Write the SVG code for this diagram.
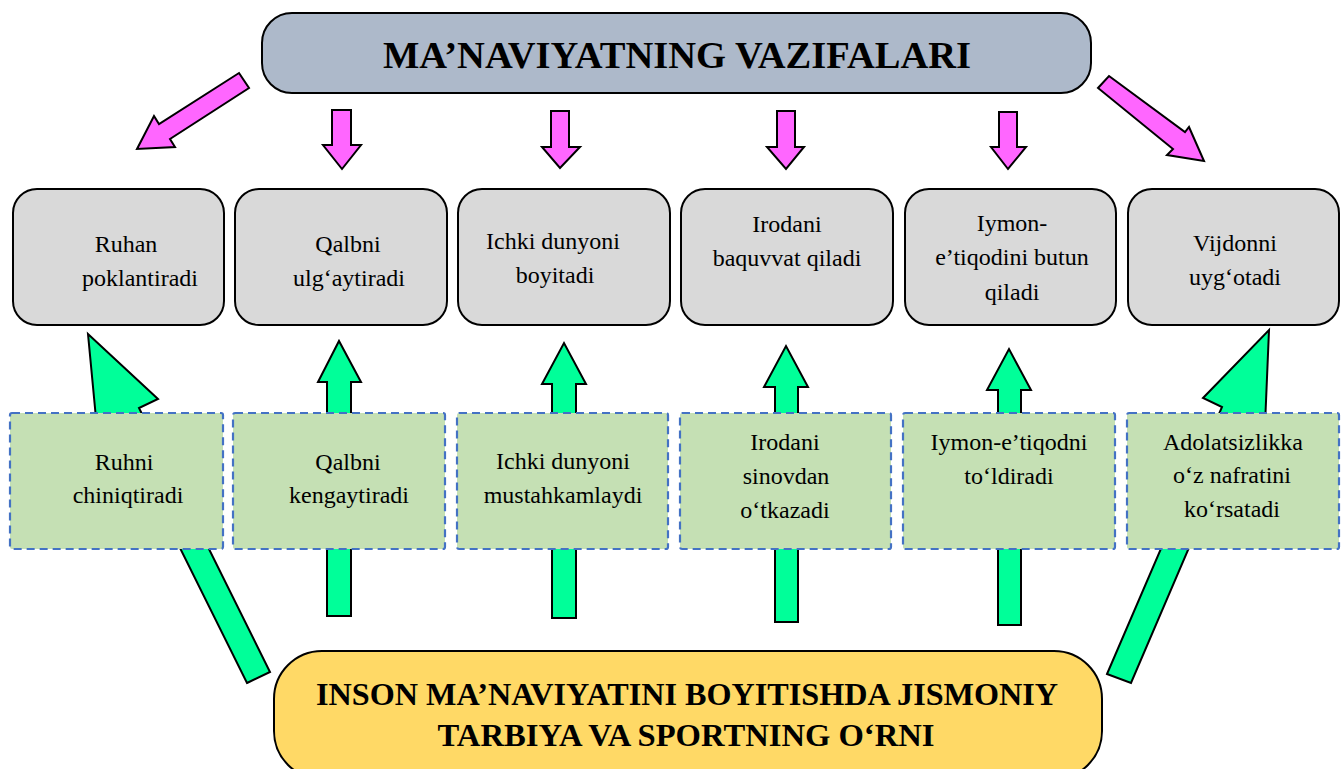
<svg xmlns="http://www.w3.org/2000/svg" width="1341" height="769" viewBox="0 0 1341 769">
<style>
.pink{fill:#ff66ff;stroke:#000;stroke-width:2;stroke-linejoin:miter}
.grn{fill:#00ff99;stroke:#000;stroke-width:2;stroke-linejoin:miter}
.gray{fill:#d9d9d9;stroke:#000;stroke-width:2}
.gbox{fill:#c5e0b4;stroke:#4472c4;stroke-width:2.2;stroke-dasharray:8 5}
.t{font-family:"Liberation Serif","Times New Roman",serif;font-size:24px;fill:#000;text-anchor:middle}
.h{font-family:"Liberation Serif","Times New Roman",serif;font-weight:bold;fill:#000;text-anchor:middle}
</style>
<rect width="1341" height="769" fill="#fff"/>
<g id="connectors">
<polygon class="pink" points="239,73 249,88 170,139 175,147 137,149 154,116 159,124"/>
<polygon class="pink" points="1109,76 1185,132 1189,127 1204,161 1167,155 1173,149 1098,88"/>
<polygon class="pink" points="332,110 351,110 351,145 361,145 342,169 323,145 332,145"/>
<polygon class="pink" points="551,111 569,111 569,147 580,147 560,168 542,147 551,147"/>
<polygon class="pink" points="777,111 795,111 795,147 804,147 786,169 767,147 777,147"/>
<polygon class="pink" points="999,112 1017,112 1017,147 1026,147 1008,169 991,147 999,147"/>
<polygon class="grn" points="247,683 270,672 139,408 158,399 88,334 97,429 116,419"/>
<polygon class="grn" points="1107,674 1131,683 1245,417 1265,425 1269,330 1203,398 1222,407"/>
<polygon class="grn" points="327,616 351,616 351,382 361,382 339,341 318,382 327,382"/>
<polygon class="grn" points="552,618 576,618 576,384 586,384 564,343 542,384 552,384"/>
<polygon class="grn" points="775,622 798,622 798,387 808,387 786,346 764,387 775,387"/>
<polygon class="grn" points="998,625 1021,625 1021,390 1031,390 1009,349 987,390 998,390"/>
</g>
<g id="title">
<rect x="262" y="13" width="829" height="80" rx="30" fill="#adb9ca" stroke="#000" stroke-width="2"/>
<text class="h" x="677" y="68" font-size="37" textLength="588" lengthAdjust="spacingAndGlyphs">MA’NAVIYATNING VAZIFALARI</text>
</g>
<g id="top1"><rect class="gray" x="13" y="189" width="211" height="136" rx="24"/>
<text class="t" x="126" y="252">Ruhan</text><text class="t" x="140" y="286">poklantiradi</text></g>
<g id="top2"><rect class="gray" x="235" y="189" width="212" height="136" rx="24"/>
<text class="t" x="348" y="252">Qalbni</text><text class="t" x="349" y="286">ulg‘aytiradi</text></g>
<g id="top3"><rect class="gray" x="458" y="189" width="212" height="136" rx="24"/>
<text class="t" x="553" y="249">Ichki dunyoni</text><text class="t" x="555" y="283">boyitadi</text></g>
<g id="top4"><rect class="gray" x="681" y="189" width="212" height="136" rx="24"/>
<text class="t" x="787" y="232">Irodani</text><text class="t" x="787" y="266">baquvvat qiladi</text></g>
<g id="top5"><rect class="gray" x="905" y="189" width="211" height="136" rx="24"/>
<text class="t" x="1012" y="231">Iymon-</text><text class="t" x="1012" y="265">e’tiqodini butun</text><text class="t" x="1012" y="300">qiladi</text></g>
<g id="top6"><rect class="gray" x="1128" y="189" width="211" height="136" rx="24"/>
<text class="t" x="1235" y="251">Vijdonni</text><text class="t" x="1235" y="285">uyg‘otadi</text></g>
<g id="mid1"><rect class="gbox" x="10" y="413" width="213" height="136" rx="2"/>
<text class="t" x="124" y="470">Ruhni</text><text class="t" x="128" y="503">chiniqtiradi</text></g>
<g id="mid2"><rect class="gbox" x="233" y="413" width="212" height="136" rx="2"/>
<text class="t" x="348" y="470">Qalbni</text><text class="t" x="349" y="503">kengaytiradi</text></g>
<g id="mid3"><rect class="gbox" x="457" y="413" width="211" height="136" rx="2"/>
<text class="t" x="563" y="469">Ichki dunyoni</text><text class="t" x="563" y="503">mustahkamlaydi</text></g>
<g id="mid4"><rect class="gbox" x="680" y="413" width="211" height="136" rx="2"/>
<text class="t" x="785" y="450">Irodani</text><text class="t" x="786" y="484">sinovdan</text><text class="t" x="785" y="518">o‘tkazadi</text></g>
<g id="mid5"><rect class="gbox" x="903" y="413" width="212" height="136" rx="2"/>
<text class="t" x="1009" y="450">Iymon-e’tiqodni</text><text class="t" x="1009" y="484">to‘ldiradi</text></g>
<g id="mid6"><rect class="gbox" x="1127" y="413" width="212" height="136" rx="2"/>
<text class="t" x="1233" y="450">Adolatsizlikka</text><text class="t" x="1232" y="483">o‘z nafratini</text><text class="t" x="1232" y="517">ko‘rsatadi</text></g>
<g id="bottom">
<rect x="274" y="651" width="828" height="128" rx="48" fill="#ffd966" stroke="#000" stroke-width="2"/>
<text class="h" x="687" y="705" font-size="32" textLength="742" lengthAdjust="spacingAndGlyphs">INSON MA’NAVIYATINI BOYITISHDA JISMONIY</text>
<text class="h" x="686" y="746" font-size="32" textLength="497" lengthAdjust="spacingAndGlyphs">TARBIYA VA SPORTNING O‘RNI</text>
</g>
</svg>
